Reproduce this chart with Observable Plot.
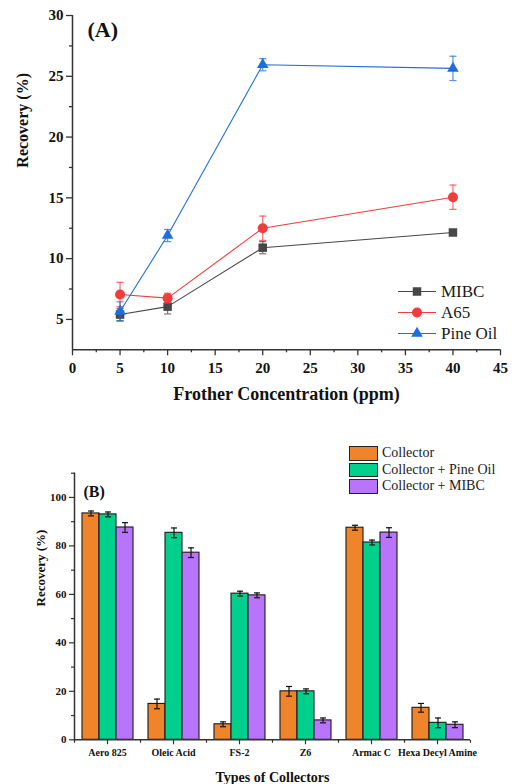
<!DOCTYPE html>
<html>
<head>
<meta charset="utf-8">
<script src="https://cdn.jsdelivr.net/npm/d3@7"></script>
<script src="https://cdn.jsdelivr.net/npm/@observablehq/plot@0.6"></script>
<style>
  body { margin: 0; background: #fff; }
  #wrap { position: relative; width: 512px; height: 784px; overflow: hidden; font-family: 'Liberation Serif', serif !important; }
  #wrap svg, #wrap svg text, #wrap .leg, #wrap .leg span { font-family: 'Liberation Serif', serif !important; }
  #chartA, #chartB { position: absolute; left: 0; }
  #chartA { top: 0; }
  #chartB { top: 415px; }
  .leg { position: absolute; color: #1a1a1a; }
  .legRow { display: flex; align-items: center; white-space: nowrap; }
</style>
</head>
<body>
<div id="wrap">
  <div id="chartA"></div>
  <div id="chartB"></div>
</div>
<script>
// ---------- Panel A data ----------
const concentrations = [5, 10, 20, 40];
const frotherNames = ["MIBC", "A65", "Pine Oil"];
const mibcRecovery = [5.4, 6.05, 10.9, 12.15];
const mibcError = [0.5, 0.6, 0.5, 0.2];
const a65Recovery = [7.05, 6.75, 12.5, 15.05];
const a65Error = [1.0, 0.4, 1.0, 1.0];
const pineRecovery = [5.65, 11.9, 25.95, 25.65];
const pineError = [0.8, 0.5, 0.5, 1.0];
const xTicksA = [0, 5, 10, 15, 20, 25, 30, 35, 40, 45];
const xMinorA = [2.5, 7.5, 12.5, 17.5, 22.5, 27.5, 32.5, 37.5, 42.5];
const yTicksA = [5, 10, 15, 20, 25, 30];
const yMinorA = [7.5, 12.5, 17.5, 22.5, 27.5];

// ---------- Panel B data ----------
const collectors = ["Aero 825", "Oleic Acid", "FS-2", "Z6", "Armac C", "Hexa Decyl Amine"];
const treatmentNames = ["Collector", "Collector + Pine Oil", "Collector + MIBC"];
const collectorRecovery = [93.4, 14.8, 6.4, 20.0, 87.5, 13.2];
const collectorError = [1.0, 2.0, 1.0, 2.0, 1.0, 1.8];
const pineOilRecovery = [93.0, 85.4, 60.3, 20.0, 81.4, 7.0];
const pineOilError = [1.0, 2.0, 1.0, 1.0, 1.0, 2.0];
const mibcBRecovery = [87.6, 77.2, 59.6, 8.0, 85.5, 6.2];
const mibcBError = [2.0, 2.0, 1.0, 1.0, 2.0, 1.2];
const yTicksB = [0, 20, 40, 60, 80, 100];
const yMinorB = [10, 30, 50, 70, 90, 110];

// ---------- styles ----------
const frotherColors = ["#474747", "#f03c3c", "#1f6ee0"];
const frotherSymbols = ["square", "circle", "triangle"];
const frotherR = [4.8, 5, 4.3];
const treatmentColors = ["#f0842b", "#00d08b", "#b874fa"];
const serif = "Liberation Serif, serif";
const axisColor = "#333";

const cap = { draw(ctx, size) { const r = Math.sqrt(size / Math.PI); ctx.moveTo(-r, 0); ctx.lineTo(r, 0); } };
const vtick = { draw(ctx, size) { const r = Math.sqrt(size / Math.PI); ctx.moveTo(0, 0); ctx.lineTo(0, r); } };

// ---------- Panel A ----------
const recA = [mibcRecovery, a65Recovery, pineRecovery];
const errA = [mibcError, a65Error, pineError];
const rowsA = frotherNames.flatMap((name, i) =>
  concentrations.map((c, j) => ({ series: name, conc: c, rec: recA[i][j], err: errA[i][j] })));

const seriesMarks = frotherNames.flatMap((name, i) => {
  const d = rowsA.filter(r => r.series === name);
  const col = frotherColors[i];
  return [
    Plot.line(d, { x: "conc", y: "rec", stroke: col, strokeWidth: 1.1 }),
    Plot.ruleX(d, { x: "conc", y1: r => r.rec - r.err, y2: r => r.rec + r.err, stroke: col, strokeOpacity: 0.75, strokeWidth: 1.2 }),
    Plot.dot(d, { x: "conc", y: r => r.rec - r.err, symbol: cap, r: 3.6, stroke: col, strokeOpacity: 0.75, fill: "none", strokeWidth: 1.2 }),
    Plot.dot(d, { x: "conc", y: r => r.rec + r.err, symbol: cap, r: 3.6, stroke: col, strokeOpacity: 0.75, fill: "none", strokeWidth: 1.2 }),
    Plot.dot(d, { x: "conc", y: "rec", symbol: frotherSymbols[i], r: frotherR[i], fill: col, stroke: "none" })
  ];
});

const chartA = Plot.plot({
  width: 512, height: 415,
  marginLeft: 72, marginRight: 12, marginTop: 15, marginBottom: 65.7,
  style: { fontFamily: serif, background: "transparent", color: "#111", overflow: "visible" },
  x: { domain: [0, 45], axis: null },
  y: { domain: [2.5, 30], axis: null },
  marks: [
    Plot.axisY({ ticks: yTicksA, tickSize: 6, tickPadding: 3, tickFormat: d => d, fontSize: 15, fontWeight: "bold", fontFamily: serif, stroke: axisColor, strokeWidth: 1.3, label: null }),
    Plot.axisY({ ticks: yMinorA, tickSize: 3, text: null, stroke: axisColor, strokeWidth: 1.3, label: null }),
    Plot.axisX({ ticks: xTicksA, tickSize: 6, tickPadding: 6.5, tickFormat: d => d, fontSize: 15, fontWeight: "bold", fontFamily: serif, stroke: axisColor, strokeWidth: 1.3, label: null }),
    Plot.axisX({ ticks: xMinorA, tickSize: 3, text: null, stroke: axisColor, strokeWidth: 1.3, label: null }),
    Plot.ruleX([0], { stroke: axisColor, strokeWidth: 1.5 }),
    Plot.ruleY([2.5], { stroke: axisColor, strokeWidth: 1.5 }),
    ...seriesMarks,
    Plot.text(["(A)"], { text: d => d, frameAnchor: "top-left", dx: 15, dy: 14, textAnchor: "start", lineAnchor: "middle", fontSize: 22, fontWeight: "bold", fontFamily: serif, fill: "#111" }),
    Plot.text(["Recovery (%)"], { text: d => d, frameAnchor: "left", dx: -50, dy: -15, rotate: -90, fontSize: 16, fontWeight: "bold", fontFamily: serif, fill: "#111" }),
    Plot.text(["Frother Concentration (ppm)"], { text: d => d, frameAnchor: "bottom", dy: 44, lineAnchor: "middle", fontSize: 18, fontWeight: "bold", fontFamily: serif, fill: "#111" })
  ]
});
document.getElementById("chartA").append(chartA);

// ---------- Panel B ----------
const recB = [collectorRecovery, pineOilRecovery, mibcBRecovery];
const errB = [collectorError, pineOilError, mibcBError];
const rowsB = treatmentNames.flatMap((t, i) =>
  collectors.map((c, j) => ({ treatment: t, collector: c, rec: recB[i][j], err: errB[i][j] })));

const chartB = Plot.plot({
  width: 512, height: 369,
  marginLeft: 72, marginRight: 39.3, marginTop: 57.7, marginBottom: 44.7,
  style: { fontFamily: serif, background: "transparent", color: "#111", overflow: "visible" },
  fx: { domain: collectors, padding: 0, axis: null },
  x: { domain: treatmentNames, paddingInner: 0, paddingOuter: 0.356, axis: null },
  y: { domain: [0, 110], axis: null },
  color: { domain: treatmentNames, range: treatmentColors },
  marks: [
    Plot.barY(rowsB, { fx: "collector", x: "treatment", y: "rec", fill: "treatment", stroke: "#1a1a1a", strokeWidth: 1.1 }),
    Plot.ruleX(rowsB, { fx: "collector", x: "treatment", y1: r => r.rec - r.err, y2: r => r.rec + r.err, stroke: "#111", strokeWidth: 1.2 }),
    Plot.dot(rowsB, { fx: "collector", x: "treatment", y: r => r.rec - r.err, symbol: cap, r: 3, stroke: "#111", fill: "none", strokeWidth: 1.2 }),
    Plot.dot(rowsB, { fx: "collector", x: "treatment", y: r => r.rec + r.err, symbol: cap, r: 3, stroke: "#111", fill: "none", strokeWidth: 1.2 }),
    Plot.ruleY([0], { stroke: axisColor, strokeWidth: 1.5 }),
    Plot.frame({ anchor: "left", facetAnchor: "left", stroke: axisColor, strokeWidth: 1.5 }),
    Plot.axisY({ ticks: yTicksB, tickSize: 5, tickPadding: 3, tickFormat: d => d, fontSize: 11, fontWeight: "bold", fontFamily: serif, stroke: axisColor, strokeWidth: 1.2, label: null }),
    Plot.axisY({ ticks: yMinorB, tickSize: 3, text: null, stroke: axisColor, strokeWidth: 1.2, label: null }),
    Plot.axisFx({ anchor: "bottom", tickSize: 5, tickPadding: 4, fontSize: 10, fontWeight: "bold", fontFamily: serif, stroke: axisColor, strokeWidth: 1.2, label: null }),
    Plot.axisFx({ anchor: "bottom", ticks: [], tickSize: 0, fontSize: 14, fontWeight: "bold", fontFamily: serif,
      label: "Types of Collectors", labelAnchor: "center", labelArrow: "none" }),
    Plot.dot([0], { frameAnchor: "bottom-left", symbol: vtick, r: 3, stroke: axisColor, fill: "none", strokeWidth: 1.2 }),
    Plot.dot([0], { frameAnchor: "bottom-right", facetAnchor: "right", symbol: vtick, r: 3, stroke: axisColor, fill: "none", strokeWidth: 1.2 }),
    Plot.text(["(B)"], { text: d => d, frameAnchor: "top-left", facetAnchor: "left", dx: 9, dy: 19, textAnchor: "start", lineAnchor: "middle", fontSize: 16, fontWeight: "bold", fontFamily: serif, fill: "#111" }),
    Plot.text(["Recovery (%)"], { text: d => d, frameAnchor: "left", facetAnchor: "left", dx: -34, rotate: -90, fontSize: 13, fontWeight: "bold", fontFamily: serif, fill: "#111" })
  ]
});
document.getElementById("chartB").append(chartB);

// ---------- Legends (HTML) ----------
const legA = d3.select("#wrap").append("div").attr("class", "leg").style("left", "396px").style("top", "281px");
frotherNames.forEach((name, i) => {
  const row = legA.append("div").attr("class", "legRow").style("height", "21px");
  const svg = row.append("svg").attr("width", 45).attr("height", 21);
  svg.append("line").attr("x1", 2).attr("x2", 40).attr("y1", 10.5).attr("y2", 10.5).attr("stroke", frotherColors[i]).attr("stroke-width", 1.1);
  const symType = { square: d3.symbolSquare, circle: d3.symbolCircle, triangle: d3.symbolTriangle }[frotherSymbols[i]];
  svg.append("path").attr("transform", "translate(21,10.5)")
    .attr("d", d3.symbol(symType, Math.PI * frotherR[i] * frotherR[i])()).attr("fill", frotherColors[i]);
  row.append("span").style("font-size", "17px").style("font-family", serif).text(name);
});

const legB = d3.select("#wrap").append("div").attr("class", "leg").style("left", "349px").style("top", "445px");
treatmentNames.forEach((name, i) => {
  const row = legB.append("div").attr("class", "legRow").style("height", "16.5px");
  row.append("div").style("width", "27px").style("height", "12.5px").style("border", "1px solid #222")
    .style("background", treatmentColors[i]).style("box-sizing", "content-box");
  row.append("span").style("font-size", "14px").style("margin-left", "4px").style("font-family", serif).text(name);
});
</script>
</body>
</html>
